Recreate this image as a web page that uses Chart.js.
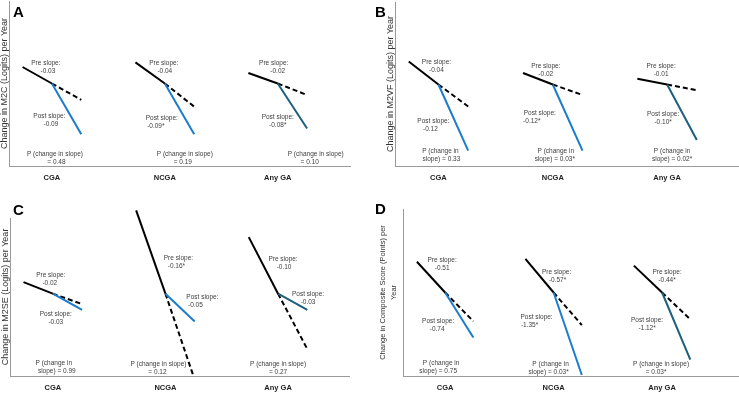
<!DOCTYPE html>
<html>
<head>
<meta charset="utf-8">
<script src="https://cdn.jsdelivr.net/npm/chart.js@4.4.0/dist/chart.umd.min.js"></script>
<style>
  body { margin: 0; background: #fff; }
  #wrap { position: relative; width: 739px; height: 401px; overflow: hidden; }
  .panel { position: absolute; }
</style>
</head>
<body>
<div id="wrap">
  <div class="panel" style="left:0;top:0;width:370px;height:200px"><canvas id="chart_a"></canvas></div>
  <div class="panel" style="left:370px;top:0;width:369px;height:200px"><canvas id="chart_b"></canvas></div>
  <div class="panel" style="left:0;top:200px;width:370px;height:201px"><canvas id="chart_c"></canvas></div>
  <div class="panel" style="left:370px;top:200px;width:369px;height:201px"><canvas id="chart_d"></canvas></div>
</div>
<script>
const categories = ['CGA', 'NCGA', 'Any GA'];

// relative level (0 = x axis, 100 = top of y axis)
// A - M2C
const a_pre_start = [60, 62.8, 56.4];
const a_break = [50, 50, 50];
const a_post_end = [19.2, 19.2, 22.7];
const a_dash_end = [40.1, 36.0, 43.0];
const a_pre_slope = ['-0.03', '-0.04', '-0.02'];
const a_post_slope = ['-0.09', '-0.09*', '-0.08*'];
const a_p_change = ['0.48', '0.19', '0.10'];

// B - M2VF
const b_pre_start = [63.7, 56.7, 53.2];
const b_break = [49.7, 49.7, 49.7];
const b_post_end = [9.4, 9.4, 15.8];
const b_dash_end = [36.3, 43.3, 46.2];
const b_pre_slope = ['-0.04', '-0.02', '-0.01'];
const b_post_slope = ['-0.12', '-0.12*', '-0.10*'];
const b_p_change = ['0.33', '0.03*', '0.02*'];

// C - M2SE
const c_pre_start = [59.4, 104.8, 87.9];
const c_break = [52.1, 52.1, 52.1];
const c_post_end = [41.8, 34.5, 41.8];
const c_dash_end = [45.5, -2.4, 17.0];
const c_pre_slope = ['-0.02', '-0.16*', '-0.10'];
const c_post_slope = ['-0.03', '-0.05', '-0.03'];
const c_p_change = ['0.99', '0.12', '0.27'];

// D - Composite score
const d_pre_start = [68.4, 70.1, 66.1];
const d_break = [50, 50, 50];
const d_post_end = [23, 0.6, 9.8];
const d_dash_end = [32.8, 30.5, 33.9];
const d_pre_slope = ['-0.51', '-0.57*', '-0.44*'];
const d_post_slope = ['-0.74', '-1.35*', '-1.12*'];
const d_p_change = ['0.75', '0.03*', '0.03*'];

const post_colors = ['#1b7ccc', '#1b7ccc', '#1d5f7e'];
const half_span = 0.26;

// label layout, px from the break point: [dx line1, dy, dx line2]
const layout = {
    a: {
        pre: [[-6, -20, -4], [-1, -20, 0], [-4, -20, 0]],
        post: [[-2.5, 33, -1], [-3, 35, -9], [0, 34, 0]],
        p: [[3, 71, 4.5], [20, 71, 18], [38, 71, 32]],
        p_split: ['long', 'long', 'long']
    },
    b: {
        pre: [[-2, -22, -2], [-7, -18, -7], [-6, -18, -6]],
        post: [[-5, 37, -8], [-13, 29, -21], [-4, 30, -4]],
        p: [[2, 67, 3], [3, 67, 2], [5, 67, 5]],
        p_split: ['short', 'short', 'short']
    },
    c: {
        pre: [[-2, -18, -3], [13, -35, 11], [5, -34, 6]],
        post: [[3, 21, 3], [37, 4, 30], [30, 1, 30]],
        p: [[1, 70, 4], [-7, 71, -8], [0, 71, 0]],
        p_split: ['short', 'long', 'long']
    },
    d: {
        pre: [[-3, -32, -3], [3, -20, 4], [5, -20, 5]],
        post: [[-7, 29, -8], [-17, 25, -24], [-15, 28, -15]],
        p: [[-4, 71, -7], [-3, 72, -5], [-1, 72, -6]],
        p_split: ['short', 'short', 'long']
    }
};

const build_datasets = (pre_start, brk, post_end, dash_end) => {
    let sets = [];
    categories.forEach((c, i) => {
        const g = i + 1;
        sets.push({
            data: [{x: g - half_span, y: pre_start[i]}, {x: g, y: brk[i]}],
            borderColor: '#000', borderWidth: 2, pointRadius: 0, clip: false
        });
        sets.push({
            data: [{x: g, y: brk[i]}, {x: g + half_span, y: post_end[i]}],
            borderColor: post_colors[i], borderWidth: 2, pointRadius: 0, clip: false
        });
        sets.push({
            data: [{x: g, y: brk[i]}, {x: g + half_span, y: dash_end[i]}],
            borderColor: '#000', borderWidth: 2, borderDash: [5, 3], pointRadius: 0
        });
    });
    return sets;
}

const labels_plugin = (letter, letter_pos, lay, brk, pre_slope, post_slope, p_change) => ({
    id: 'labels_' + letter,
    afterDraw(chart) {
        const ctx = chart.ctx;
        const xs = chart.scales.x, ys = chart.scales.y;
        ctx.save();
        ctx.fillStyle = '#000';
        ctx.font = 'bold 15px "Liberation Sans", Arial, sans-serif';
        ctx.textAlign = 'left';
        ctx.textBaseline = 'alphabetic';
        ctx.fillText(letter, letter_pos[0], letter_pos[1]);

        ctx.font = '6.5px "Liberation Sans", Arial, sans-serif';
        ctx.fillStyle = '#404040';
        ctx.textAlign = 'center';
        ctx.textBaseline = 'middle';
        const put = (i, pos, l1, l2) => {
            const px = xs.getPixelForValue(i + 1);
            const py = ys.getPixelForValue(brk[i]);
            ctx.fillText(l1, px + pos[0], py + pos[1]);
            ctx.fillText(l2, px + pos[2], py + pos[1] + 7.5);
        };
        categories.forEach((c, i) => {
            put(i, lay.pre[i], 'Pre slope:', pre_slope[i]);
            put(i, lay.post[i], 'Post slope:', post_slope[i]);
            if (lay.p_split[i] === 'short') {
                put(i, lay.p[i], 'P (change in', 'slope) = ' + p_change[i]);
            } else {
                put(i, lay.p[i], 'P (change in slope)', '= ' + p_change[i]);
            }
        });
        ctx.restore();
    }
});

const make_panel = (canvas_id, opts) => {
    let canvas = document.getElementById(canvas_id);
    const config = {
        type: 'line',
        data: {
            datasets: build_datasets(opts.pre_start, opts.brk, opts.post_end, opts.dash_end)
        },
        options: {
            responsive: true,
            maintainAspectRatio: false,
            animation: false,
            layout: { padding: opts.padding },
            plugins: { legend: { display: false }, tooltip: { enabled: false } },
            scales: {
                x: {
                    type: 'linear',
                    min: 0.62,
                    max: opts.x_max,
                    grid: { display: false, drawTicks: false },
                    border: { display: true, color: '#9a9a9a', width: 1 },
                    afterBuildTicks: (axis) => { axis.ticks = [{value: 1}, {value: 2}, {value: 3}]; },
                    ticks: {
                        padding: 7,
                        autoSkip: false,
                        maxRotation: 0,
                        color: '#222',
                        font: { family: '"Liberation Sans", Arial, sans-serif', size: 7.5, weight: 'bold', lineHeight: 1.2 },
                        callback: (v) => categories[Math.round(v) - 1]
                    }
                },
                y: {
                    min: 0,
                    max: 100,
                    grid: { display: false, drawTicks: false },
                    border: { display: true, color: '#9a9a9a', width: 1 },
                    ticks: { display: false },
                    title: {
                        display: true,
                        text: opts.y_title,
                        color: '#333',
                        padding: opts.title_padding,
                        font: { family: '"Liberation Sans", Arial, sans-serif', size: opts.title_size, lineHeight: opts.title_lh }
                    }
                }
            }
        },
        plugins: [labels_plugin(opts.letter, opts.letter_pos, opts.lay, opts.brk, opts.pre_slope, opts.post_slope, opts.p_change)]
    };
    new Chart(canvas, config);
}

make_panel('chart_a', {
    pre_start: a_pre_start, brk: a_break, post_end: a_post_end, dash_end: a_dash_end,
    pre_slope: a_pre_slope, post_slope: a_post_slope, p_change: a_p_change,
    lay: layout.a, letter: 'A', letter_pos: [13, 17],
    padding: { left: 0, right: 20, top: 1, bottom: 11 }, x_max: 3.64,
    y_title: 'Change in M2C (Logits) per Year', title_size: 9, title_lh: 1, title_padding: 0
});
make_panel('chart_b', {
    pre_start: b_pre_start, brk: b_break, post_end: b_post_end, dash_end: b_dash_end,
    pre_slope: b_pre_slope, post_slope: b_post_slope, p_change: b_p_change,
    lay: layout.b, letter: 'B', letter_pos: [5, 17],
    padding: { left: 16, right: 1, top: 2, bottom: 11 }, x_max: 3.62,
    y_title: 'Change in M2VF (Logits) per Year', title_size: 9, title_lh: 1, title_padding: 0
});
make_panel('chart_c', {
    pre_start: c_pre_start, brk: c_break, post_end: c_post_end, dash_end: c_dash_end,
    pre_slope: c_pre_slope, post_slope: c_post_slope, p_change: c_p_change,
    lay: layout.c, letter: 'C', letter_pos: [13, 15],
    padding: { left: 1, right: 21, top: 18, bottom: 2 }, x_max: 3.63,
    y_title: 'Change in M2SE (Logits) per Year', title_size: 9, title_lh: 1, title_padding: 0
});
make_panel('chart_d', {
    pre_start: d_pre_start, brk: d_break, post_end: d_post_end, dash_end: d_dash_end,
    pre_slope: d_pre_slope, post_slope: d_post_slope, p_change: d_p_change,
    lay: layout.d, letter: 'D', letter_pos: [5, 14],
    padding: { left: 7.4, right: 1, top: 9, bottom: 2 }, x_max: 3.7,
    y_title: ['Change in Composite Score (Points) per', 'Year'], title_size: 7.5, title_lh: 1.5,
    title_padding: { top: 0, bottom: 4 }
});
</script>
</body>
</html>
